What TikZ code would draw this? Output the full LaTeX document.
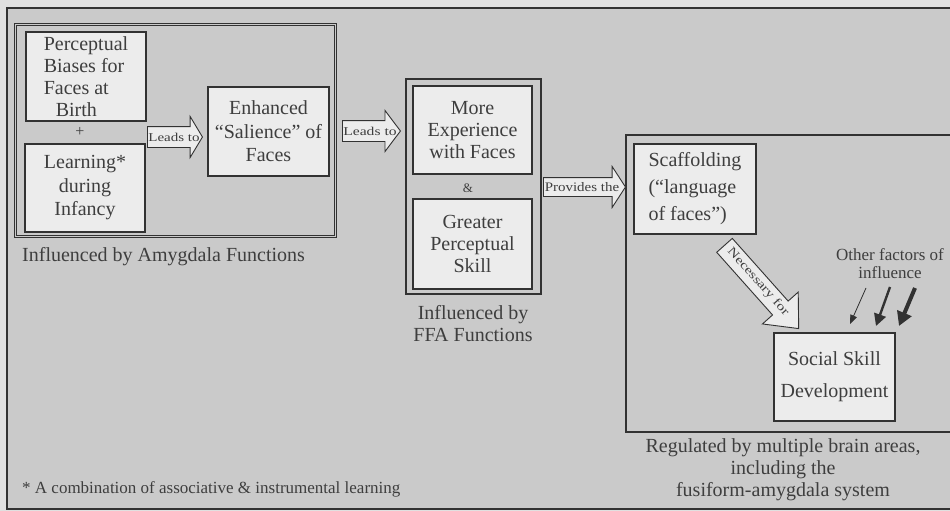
\documentclass[tikz,border=0pt]{standalone}
\usepackage{fontspec}
\setmainfont{Liberation Serif}
\usetikzlibrary{shapes.arrows,arrows.meta}
\definecolor{pagebg}{RGB}{224,224,224}
\definecolor{framebg}{RGB}{202,202,202}
\definecolor{boxbg}{RGB}{236,236,236}
\definecolor{ink}{RGB}{50,50,50}
\definecolor{txt}{RGB}{62,62,62}
\begin{document}
\begin{tikzpicture}[x=1pt,y=-1pt,
  every node/.style={text=txt, font=\fontsize{20}{22}\selectfont},
  box/.style={draw=ink, line width=2pt, fill=boxbg, inner sep=0pt, align=center},
  dframe/.style={draw=ink, line width=1.3pt, double=framebg, double distance=1pt, inner sep=0pt},
  sframe/.style={draw=ink, line width=2.4pt, inner sep=0pt},
  blockarrow/.style={single arrow, draw=ink, line width=0.9pt, fill=boxbg, inner xsep=0pt, minimum width=0pt, anchor=tail},
  arrowtxt/.style={font=\fontsize{12}{12}\selectfont, inner sep=0pt},
  small/.style={font=\fontsize{17}{18}\selectfont, align=center, inner sep=0pt},
  plain/.style={inner sep=0pt, align=center}
]
\useasboundingbox (0,0) rectangle (950,511);
\fill[pagebg] (0,0) rectangle (950,511);
\clip (0,0) rectangle (950,511);
% outer frame
\node[draw=ink, line width=2pt, fill=framebg, inner sep=0pt, minimum width=955pt, minimum height=501pt] (outer) at (484.5,258.5) {};

% group frames
\node[dframe, minimum width=320pt, minimum height=212pt] (lg) at (175.5,130.5) {};
\node[sframe, minimum width=135pt, minimum height=215pt] (mg) at (473.5,186.5) {};
\node[draw=ink, line width=2pt, inner sep=0pt, minimum width=334pt, minimum height=297pt] (rf) at (793,283.5) {};

% boxes
\node[box, minimum width=120pt, minimum height=89pt, align=left] (pb) at (86,76.5) {Perceptual\\Biases for\\Faces at\\\hspace*{12pt}Birth};
\node[plain, font=\fontsize{16}{16}\selectfont] (plus) at (80,132) {+};
\node[box, minimum width=120pt, minimum height=88pt, font=\fontsize{20}{23.5}\selectfont] (lf) at (85,188) {Learning*\\during\\Infancy};
\node[box, minimum width=121pt, minimum height=89pt, font=\fontsize{20}{23.5}\selectfont] (enh) at (268.5,131.5) {Enhanced\\“Salience” of\\Faces};
\node[box, minimum width=119pt, minimum height=88pt] (me) at (472.5,130) {More\\Experience\\with Faces};
\node[plain, font=\fontsize{13}{13}\selectfont] (amp) at (468,188) {\&};
\node[box, minimum width=119pt, minimum height=90pt] (gp) at (472.5,244) {Greater\\Perceptual\\Skill};
\node[box, minimum width=122pt, minimum height=90pt, align=left, font=\fontsize{20}{27}\selectfont] (sc) at (695,189) {Scaffolding\\(“language\\of faces”)};
\node[box, minimum width=121pt, minimum height=88pt, font=\fontsize{20}{32}\selectfont] (ss) at (834.5,377) {Social Skill\\Development};

% captions
\node[plain, anchor=west] (amy) at (22,257) {Influenced by Amygdala Functions};
\node[plain] (ffa) at (473,324) {Influenced by\\FFA Functions};
\node[plain] (reg) at (783,470) {Regulated by multiple brain areas,\\including the\\fusiform-amygdala system};
\node[small, anchor=west] (foot) at (22,489) {* A combination of associative \& instrumental learning};
\node[small] (other) at (890,264) {Other factors of\\influence};

% block arrows
\node[blockarrow, minimum height=55pt, inner ysep=10pt, single arrow head extend=10pt, single arrow tip angle=118] (a1) at (pb.east |- 0,137) {};
\node[arrowtxt] (t1) at (174,137) {\scalebox{1.25}[1]{Leads to}};
\node[blockarrow, minimum height=58pt, inner ysep=10pt, single arrow head extend=10pt, single arrow tip angle=106] (a2) at (342,131) {};
\node[arrowtxt] (t2) at (370,131) {\scalebox{1.3}[1]{Leads to}};
\node[blockarrow, minimum height=82pt, inner ysep=9pt, single arrow head extend=11pt, single arrow tip angle=114] (a3) at (543,187) {};
\node[arrowtxt] (t3) at (582,187) {\scalebox{1.15}[1]{\fontsize{13}{13}\selectfont Provides the}};
\node[blockarrow, rotate=-48.3, minimum height=111.5pt, inner ysep=10pt, single arrow head extend=13.5pt, single arrow tip angle=82] (a4) at (724.2,245) {};
\node[arrowtxt, rotate=-48.3] (t4) at (758,282) {\scalebox{1.3}[1]{Necessary for}};

% other factors arrows
\coordinate (o1a) at (866,288); \coordinate (o1b) at (850,324);
\coordinate (o2a) at (890,287); \coordinate (o2b) at (876,326);
\coordinate (o3a) at (915,288); \coordinate (o3b) at (899,326);
\draw[ink, line width=0.8pt, -{Triangle[length=9pt, width=7pt]}] (o1a) -- (o1b);
\draw[ink, line width=2.4pt, -{Triangle[length=12pt, width=12pt]}] (o2a) -- (o2b);
\draw[ink, line width=4pt, -{Triangle[length=14pt, width=15pt]}] (o3a) -- (o3b);
\end{tikzpicture}
\end{document}
